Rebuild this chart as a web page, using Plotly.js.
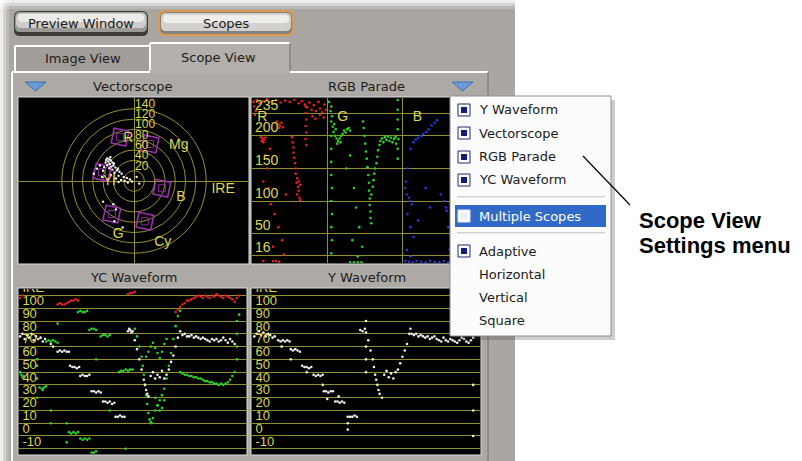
<!DOCTYPE html>
<html><head><meta charset="utf-8">
<script src="https://cdn.plot.ly/plotly-3.0.1.min.js"></script>
<style>html,body{margin:0;padding:0;background:#fff}#chart{width:802px;height:461px}</style>
</head><body><div id="chart"></div>
<script>
// ---------------- DATA ----------------
const vsRings = [20, 40, 60, 80, 100, 120, 140];
const vsTargetNames = ['R', 'Mg', 'B', 'Cy', 'G', 'Yl'];
const vsTargetU = [-27, 31, 54, 21, -43, -62];
const vsTargetV = [85, 72, -14, -78, -64, 17];
const vsLabelU = [-21, 68, 82, 39, -41, -60];
const vsLabelV = [83, 68, -31, -120, -103, 0];
const vsDotsU = [-52,-48,-45,-50,-55,-42,-47,-52,-40,-44,-58,-36,-48,-42,-33,-60,-28,-38,-24,-45,-30,-20,-14,-35,-8,-25,-18,-4,-66,-72,-78,-62,-50,-30,-12,-40,-35,-38,-22,-60,10,5,-46,-54,-39,-31];
const vsDotsV = [44,42,40,38,36,36,33,31,30,28,27,26,25,22,21,20,18,16,14,12,10,8,6,5,3,2,0,-1,30,24,14,8,3,-2,-3,-45,-55,-78,-90,-40,-5,8,46,41,34,24];

const parTicks = [16, 50, 100, 150, 200, 235];
const parChannels = ['R', 'G', 'B'];
const redX = [0.02,0.06,0.1,0.14,0.2,0.26,0.32,0.38,0.44,0.5,0.56,0.62,0.66,0.7,0.73,0.76,0.79,0.82,0.85,0.88,0.9,0.93,0.96,0.98,0.03,0.05,0.04,0.12,0.14,0.16,0.13,0.18,0.15,0.33,0.35,0.37,0.39,0.41,0.36,0.71,0.71,0.72,0.71,0.72,0.71,0.72,0.53,0.54,0.55,0.55,0.56,0.57,0.58,0.58,0.6,0.59,0.61,0.62,0.6,0.63,0.64,0.62,0.64,0.18,0.2,0.22,0.25,0.3,0.35,0.4,0.28,0.42,0.15,0.24,0.45,0.28,0.32,0.36,0.15,0.8,0.84,0.9,0.95];
const redY = [252,255,250,253,256,252,255,251,254,252,255,250,253,248,244,251,240,247,238,252,242,236,248,240,245,238,232,198,196,194,192,197,190,222,218,215,220,213,212,245,235,225,215,205,195,186,198,190,182,174,166,158,150,142,135,128,122,116,110,105,101,130,125,170,150,120,95,80,60,40,30,18,130,180,110,8,8,7,8,230,226,232,228];
const greenX = [1.02,1.05,1.04,1.06,1.05,1.07,1.08,1.1,1.12,1.14,1.16,1.18,1.2,1.22,1.24,1.26,1.28,1.3,1.13,1.17,1.09,1.11,1.05,1.05,1.05,1.05,1.06,1.05,1.06,1.05,1.06,1.05,1.93,1.93,1.93,1.93,1.94,1.93,1.93,1.47,1.48,1.49,1.5,1.51,1.52,1.53,1.54,1.55,1.55,1.56,1.56,1.57,1.57,1.58,1.58,1.6,1.61,1.62,1.63,1.65,1.66,1.67,1.69,1.7,1.72,1.74,1.76,1.78,1.8,1.82,1.84,1.86,1.88,1.9,1.91,1.3,1.35,1.38,1.42,1.33,1.46,1.4,1.25,1.3,1.35,1.4,1.45];
const greenY = [252,245,238,230,222,214,206,200,196,192,196,200,203,208,205,210,212,208,188,190,218,210,200,180,160,140,120,100,80,60,40,20,255,240,225,210,195,180,165,222,212,200,188,176,165,152,140,128,116,104,94,84,74,66,110,122,132,142,150,158,168,178,186,192,196,190,198,194,199,192,197,190,195,198,188,170,120,90,60,40,30,15,150,6,6,6,6];
const blueX = [2.45,2.42,2.38,2.34,2.31,2.27,2.24,2.2,2.17,2.14,2.1,2.06,2.04,2.03,2.05,2.08,2.1,2.12,2.06,2.1,2.14,2.2,2.3,2.36,2.5,2.55,2.57,2.58,2.6,2.05,2.1,2.03,2.08,2.13,2.18,2.24,2.3,2.36,2.42,2.48,2.54,2.6,2.62];
const blueY = [224,220,216,210,206,203,200,197,194,190,180,150,130,120,110,105,100,95,80,60,45,70,120,90,110,100,90,85,60,25,15,8,7,6,8,7,6,8,7,6,8,6,26];

const ireTicks = [-10, 0, 10, 20, 30, 40, 50, 60, 70, 80, 90, 100, 110];
const ireLabels = ['-10', '0', '10', '20', '30', '40', '50', '60', '70', '80', '90', '100', 'IRE'];

const ycLumaX = [0.5,1.5,2.5,3.5,4.5,5.5,6.5,7.5,8.5,9.5,10.5,11.5,17,18,19,20,21,22,14,15,22.5,23.5,24.5,25.5,26.5,27,28,29,30,31,32,33,34,35,36,37,38,39,40,41,42,42.5,43.5,44.5,45.5,46.5,48,48.5,49,49.5,50,51,52,53,54,55,55.5,56,56.5,57,58,59,60,61,62,63,64,65,66,67,68,69,70,71,72,73,74,75,76,77,78,79,80,81,82,83,84,85,86,87,88,89,90,91,92,93,94,95];
const ycLumaY = [78,80,76,79,77,80,75,78,76,77,74,76,66,67,66,67,66,66,72,70,55,54,54,53,54,47,48,47,47,48,35,35,34,35,34,27,27,26,27,25,26,15,15,16,15,15,82,84,83,81,82,75,68,60,52,44,40,36,33,31,47,50,45,48,46,51,45,48,52,58,63,70,77,82,79,80,78,78,79,77,78,77,76,77,76,75,74,76,75,76,74,75,77,75,73,76,74,72];
const ycRedX = [17,18,19,20,21,22,23,24,25,26,48,49,50,51,69,70,71,72,73,74,75,76,77,78,79,80,81,82,83,84,85,86,87,88,89,90,91,92,93,94,95,96,97,0.5,1.5];
const ycRedY = [103,104,103,103,104,105,106,106,107,106,111,112,112,113,97,99,101,103,104,106,106,107,108,109,110,109,108,110,109,108,110,109,111,110,109,108,110,109,108,107,105,108,110,108,110];
const ycChromaX = [0.5,1,1.5,2,9,10,11,12,10.5,12,13,14,15,16,17,26,27,28,29,30,31,32,33,34,36,37,38,39,40,22,23,24,25,26,27,28,29,30,31,32,33,34,44,45,46,47,48,49,50,51,52,53,54,54.5,55,55.5,56,56.5,57,57.5,58,58.5,59,60,61,62,63,64,65,66,67,68,69,70,71,56,57,58,59,60,61,62,63,64,65,60,61,62,63,64,71,72,73,74,75,76,77,78,79,80,81,82,83,84,85,86,87,88,89,90,91,92,93,94,95,96,96,96,96,97,8,8,8,8,14,14,21,21,17,34,40,47];
const ycChromaY = [50,48,46,47,38,37,38,39,36,74,75,74,75,74,73,97,98,97,97,98,83,84,84,83,78,79,79,78,79,3,2,3,2,3,-2,-3,-2,-3,-2,-13,-13,-12,50,51,51,52,51,52,52,84,78,70,62,55,48,40,32,25,18,13,11,10,14,20,24,28,32,37,45,55,65,76,86,94,98,62,66,70,73,69,65,61,66,72,76,30,24,20,22,28,50,49,48,48,47,47,46,46,45,45,44,43,43,42,42,41,41,40,41,40,41,42,44,47,50,60,70,80,90,95,60,55,45,30,20,10,-5,10,88,60,20,-10];

const yLumaX = [1,2,3,4,5,6,7,8,9,10,11.5,12.5,13.5,14.5,15.5,16.5,17,18,19,20,21,22,23,24,25,26,27,28,29,30,31,31.5,32.5,33.5,34.5,35.5,36.5,37.5,38.5,39.5,40.5,42,43,44,45,46,47.5,48.5,49.5,50,51,52,53,53.5,54,54.5,55,55.5,56,57,58,59,60,61,62,63,64,65,66,67,68,69,69.5,70,71,72,73,74,75,76,77,78,79,80,81,82,83,84,85,86,87,88,89,90,91,92,93,94,95,96,97,13,17,24,31,33,38,50,50,50,50,42,42,97,97,97];
const yLumaY = [78,80,82,79,81,78,80,79,77,78,75,74,75,74,75,74,68,67,68,67,66,55,54,54,53,54,48,47,48,47,48,35,35,34,35,35,27,27,26,27,26,15,15,15,16,15,83,82,84,81,75,67,60,54,48,44,40,36,33,30,48,51,46,49,45,50,52,57,62,67,72,80,84,80,79,80,78,79,78,77,78,76,77,78,76,75,74,77,75,74,76,75,74,73,75,77,76,74,73,75,77,70,60,50,40,29,31,90,70,60,50,10,5,40,20,0];

// ---------------- HELPERS (layout only) ----------------
const W = 802, H = 461;
const fx = x => x / W, fy = y => 1 - y / H;
const shapes = [];
function rect(x0, y0, x1, y1, fill, lc, lw, layer) {
  shapes.push({type: 'rect', xref: 'paper', yref: 'paper', x0: fx(x0), x1: fx(x1), y0: fy(y1), y1: fy(y0),
    fillcolor: fill, line: {color: lc || 'rgba(0,0,0,0)', width: lw || 0}, layer: layer || 'below'});
}
function seg(x0, y0, x1, y1, c, w, layer) {
  shapes.push({type: 'line', xref: 'paper', yref: 'paper', x0: fx(x0), x1: fx(x1), y0: fy(y0), y1: fy(y1),
    line: {color: c, width: w || 1}, layer: layer || 'below'});
}
function rround(x0, y0, x1, y1, r, fill, lc, lw, layer) {
  const p = (x, y) => fx(x) + ',' + fy(y);
  const path = 'M' + p(x0 + r, y0) + ' L' + p(x1 - r, y0) + ' Q' + p(x1, y0) + ' ' + p(x1, y0 + r) +
    ' L' + p(x1, y1 - r) + ' Q' + p(x1, y1) + ' ' + p(x1 - r, y1) + ' L' + p(x0 + r, y1) +
    ' Q' + p(x0, y1) + ' ' + p(x0, y1 - r) + ' L' + p(x0, y0 + r) + ' Q' + p(x0, y0) + ' ' + p(x0 + r, y0) + ' Z';
  shapes.push({type: 'path', xref: 'paper', yref: 'paper', path: path, fillcolor: fill,
    line: {color: lc || 'rgba(0,0,0,0)', width: lw || 0}, layer: layer || 'below'});
}
function tri(x0, y0, x1, y1, fill) {
  const p = (x, y) => fx(x) + ',' + fy(y);
  shapes.push({type: 'path', xref: 'paper', yref: 'paper', path: 'M' + p(x0, y0) + ' L' + p(x1, y0) + ' L' + p((x0 + x1) / 2, y1) + ' Z',
    fillcolor: fill, line: {color: '#3f6fae', width: 1}, layer: 'below'});
}
const annotations = [];
function txt(x, y, s, size, color, anchor, fam, weight) {
  annotations.push({xref: 'paper', yref: 'paper', x: fx(x), y: fy(y), text: s, showarrow: false,
    xanchor: anchor || 'center', yanchor: 'middle',
    font: {family: fam || 'DejaVu Sans', size: size || 13, color: color || '#1c1c1c', weight: weight || 'normal'}});
}

// ---------------- WINDOW CHROME ----------------
const GRAY = '#aaa7a2';
rect(0, 0, 515, 461, GRAY);
rect(0, 0, 515, 3, 'rgba(255,255,255,0.8)'); rect(0, 3, 515, 6, 'rgba(255,255,255,0.5)'); rect(0, 6, 515, 9, 'rgba(255,255,255,0.22)');
rect(0, 0, 3, 461, 'rgba(255,255,255,0.8)'); rect(3, 0, 6, 461, 'rgba(255,255,255,0.5)'); rect(6, 0, 9, 461, 'rgba(255,255,255,0.22)');
// buttons
rround(14, 11, 148, 36, 6, '#3e3c3a');
rround(15, 12, 147, 32, 5, '#9c9a96');
rround(16, 13, 146, 28, 5, '#cfcdc9');
rround(18, 14, 144, 22, 4, '#ecebe8');
rround(158, 10, 294, 36, 7, '#d99c50');
rround(160, 12, 292, 34, 6, '#85827d');
rround(161, 13, 291, 31, 5, '#d3d1cd');
rround(163, 15, 289, 23, 4, '#efeeeb');
// tabs
rect(15, 46, 150, 72, '#a19e99');
seg(15, 46, 150, 46, '#ffffff', 2); seg(15, 46, 15, 72, '#ffffff', 2);
rect(150, 43, 290, 73, '#b3b0ab');
seg(150, 43, 290, 43, '#ffffff', 2); seg(150, 43, 150, 72, '#ffffff', 2); seg(290, 43, 290, 72, '#6f6c68', 1);
// panel
rect(13, 73, 488, 461, '#adaaa5');
rect(150, 70, 290, 74, '#b3b0ab');
seg(12, 72, 150, 72, '#ffffff', 2); seg(290, 72, 488, 72, '#ffffff', 2);
seg(12, 72, 12, 461, '#ffffff', 2); seg(488, 72, 488, 461, '#77746f', 1);
// title triangles
tri(25, 82, 46, 91, '#6a9ad6'); tri(452, 82, 473, 91, '#6a9ad6');
// black plot areas
rect(18, 97, 249, 264, '#000000', '#dadada', 1);
rect(251, 97, 481, 264, '#000000', '#dadada', 1);
rect(18, 288, 247, 455, '#000000', '#dadada', 1);
rect(251, 288, 481, 455, '#000000', '#dadada', 1);

// titles
txt(133, 86, 'Vectorscope'); txt(366, 86, 'RGB Parade');
txt(133, 277, 'YC Waveform'); txt(366, 277, 'Y Waveform');
txt(81, 23, 'Preview Window'); txt(226, 23, 'Scopes');
txt(83, 59, 'Image View'); txt(219, 58, 'Scope View');

// ---------------- MENU (above plots) ----------------
rect(454, 100, 615, 340, 'rgba(60,60,60,0.25)', null, 0, 'above');
rect(450, 96, 611, 336, '#fcfcfc', '#8e8e8e', 1, 'above');
rect(455, 205, 606, 227, '#3169c6', null, 0, 'above');
seg(457, 197, 605, 197, '#a7a7a7', 1, 'above'); seg(457, 198, 605, 198, '#ffffff', 1, 'above');
seg(457, 233, 605, 233, '#a7a7a7', 1, 'above'); seg(457, 234, 605, 234, '#ffffff', 1, 'above');
const menuItems = ['Y Waveform', 'Vectorscope', 'RGB Parade', 'YC Waveform', 'Multiple Scopes', 'Adaptive', 'Horizontal', 'Vertical', 'Square'];
const menuY = [110, 133, 157, 180, 216, 251, 274, 297, 320];
const menuChecked = [true, true, true, true, true, true, false, false, false];
menuItems.forEach((m, i) => {
  const hi = i === 4;
  if (menuChecked[i]) {
    rect(458, menuY[i] - 6, 470, menuY[i] + 6, '#ffffff', hi ? '#dfe8f6' : '#1c2a6e', 1, 'above');
    rect(461, menuY[i] - 3, 467, menuY[i] + 3, hi ? '#e8eef8' : '#101c78', null, 0, 'above');
  }
  txt(477, menuY[i], m, 13, hi ? '#ffffff' : '#1a1a1a', 'left');
});
seg(583, 156, 630, 205, '#000000', 1.2, 'above');
txt(637, 221, 'Scope View', 22, '#000000', 'left', 'Liberation Sans', 'bold');
txt(637, 245, 'Settings menu', 22, '#000000', 'left', 'Liberation Sans', 'bold');

// ---------------- SCOPE GRATICULES ----------------
const OLIVE = '#92902e', YEL = '#dcd84c';
vsRings.forEach(r => shapes.push({type: 'circle', xref: 'x', yref: 'y', x0: -r, x1: r, y0: -r, y1: r,
  line: {color: OLIVE, width: 1}, layer: 'below'}));

const lab = {family: 'Liberation Sans', size: 14, color: YEL};
const labW = {family: 'Liberation Sans', size: 13, color: YEL};
const labS = {family: 'Liberation Sans', size: 12, color: YEL};
const dot = (c, s) => ({color: c, size: s || 2.6});
const traces = [
  // vectorscope
  {x: vsTargetU, y: vsTargetV, xaxis: 'x', yaxis: 'y', mode: 'markers', marker: {symbol: 'square-open', size: 15, color: '#9b2fb0', line: {width: 1.6}, angle: 12}},
  {x: vsTargetU, y: vsTargetV, xaxis: 'x', yaxis: 'y', mode: 'markers', marker: {symbol: 'square-open', size: 7, color: '#8a2aa0', line: {width: 1}}},
  {x: vsDotsU, y: vsDotsV, xaxis: 'x', yaxis: 'y', mode: 'markers', marker: dot('#f2f2f2', 2.4)},
  {x: vsRings.map(() => 2), y: vsRings.map(r => r + 8), text: vsRings.map(String), xaxis: 'x', yaxis: 'y', mode: 'text', textposition: 'middle right', textfont: labS},
  {x: vsLabelU.concat([150]), y: vsLabelV.concat([-17]), text: vsTargetNames.concat(['IRE']), xaxis: 'x', yaxis: 'y', mode: 'text', textposition: 'middle right', textfont: lab},
  // RGB parade
  {x: redX, y: redY, xaxis: 'x2', yaxis: 'y2', mode: 'markers', marker: dot('#e42222')},
  {x: greenX, y: greenY, xaxis: 'x2', yaxis: 'y2', mode: 'markers', marker: dot('#28d428')},
  {x: blueX, y: blueY, xaxis: 'x2', yaxis: 'y2', mode: 'markers', marker: dot('#2a36e6')},
  {x: parTicks.map(() => 0.04), y: parTicks, text: parTicks.map(String), xaxis: 'x2', yaxis: 'y2', mode: 'text', textposition: 'top right', textfont: lab},
  {x: [0.07, 1.13, 2.13], y: [228, 228, 228], text: parChannels, xaxis: 'x2', yaxis: 'y2', mode: 'text', textposition: 'middle right', textfont: lab},
  // YC waveform
  {x: ycChromaX, y: ycChromaY, xaxis: 'x3', yaxis: 'y3', mode: 'markers', marker: dot('#2ad42a')},
  {x: ycRedX, y: ycRedY, xaxis: 'x3', yaxis: 'y3', mode: 'markers', marker: dot('#e42222')},
  {x: ycLumaX, y: ycLumaY, xaxis: 'x3', yaxis: 'y3', mode: 'markers', marker: dot('#f0f0f0')},
  {x: ireTicks.map(() => 1.5), y: ireTicks, text: ireLabels, xaxis: 'x3', yaxis: 'y3', mode: 'text', textposition: 'top right', textfont: labW, cliponaxis: true},
  // Y waveform
  {x: yLumaX, y: yLumaY, xaxis: 'x4', yaxis: 'y4', mode: 'markers', marker: dot('#f0f0f0')},
  {x: ireTicks.map(() => 1.5), y: ireTicks, text: ireLabels, xaxis: 'x4', yaxis: 'y4', mode: 'text', textposition: 'top right', textfont: labW, cliponaxis: true}
];
traces.forEach(t => { t.hoverinfo = 'skip'; t.showlegend = false; });

const baseAx = {showticklabels: false, ticks: '', showline: false, zeroline: false, showgrid: false, fixedrange: true};
const ax = o => Object.assign({}, baseAx, o);
const layout = {
  width: W, height: H, margin: {l: 0, r: 0, t: 0, b: 0},
  paper_bgcolor: '#ffffff', plot_bgcolor: 'rgba(0,0,0,0)', showlegend: false,
  xaxis: ax({domain: [fx(19), fx(248)], range: [-223, 221], zeroline: true, zerolinecolor: OLIVE, zerolinewidth: 1, anchor: 'y'}),
  yaxis: ax({domain: [fy(263), fy(98)], range: [-159, 161], zeroline: true, zerolinecolor: OLIVE, zerolinewidth: 1, anchor: 'x'}),
  xaxis2: ax({domain: [fx(252), fx(480)], range: [0, 3.02], tickvals: [1, 2], showgrid: true, gridcolor: OLIVE, gridwidth: 1, anchor: 'y2'}),
  yaxis2: ax({domain: [fy(263), fy(98)], range: [5, 258], tickvals: parTicks, showgrid: true, gridcolor: OLIVE, gridwidth: 1, anchor: 'x2'}),
  xaxis3: ax({domain: [fx(19), fx(246)], range: [0, 100], anchor: 'y3'}),
  yaxis3: ax({domain: [fy(454), fy(289)], range: [-14.1, 115.1], tickvals: ireTicks, showgrid: true, gridcolor: OLIVE, gridwidth: 1, anchor: 'x3'}),
  xaxis4: ax({domain: [fx(252), fx(480)], range: [0, 100], anchor: 'y4'}),
  yaxis4: ax({domain: [fy(454), fy(289)], range: [-14.1, 115.1], tickvals: ireTicks, showgrid: true, gridcolor: OLIVE, gridwidth: 1, anchor: 'x4'}),
  shapes: shapes, annotations: annotations
};
Plotly.newPlot('chart', traces, layout, {staticPlot: true, displayModeBar: false});
</script></body></html>
